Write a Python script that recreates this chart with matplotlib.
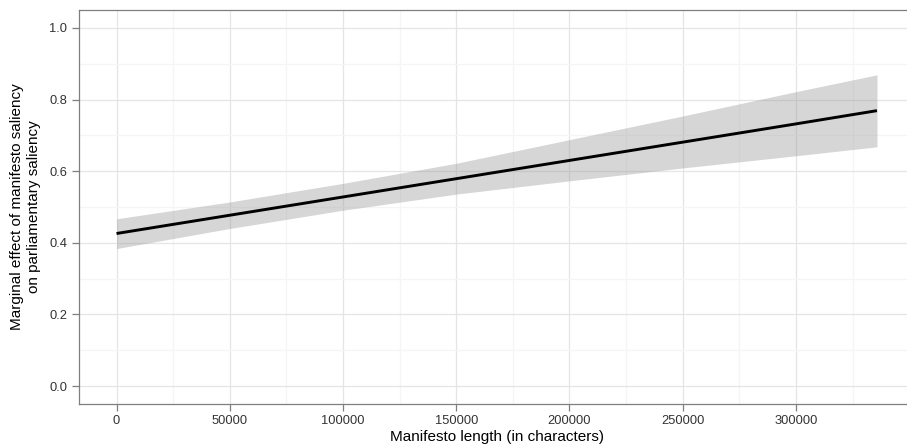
import matplotlib
matplotlib.use("Agg")
import matplotlib.pyplot as plt
from matplotlib.ticker import FixedLocator

# Data
length_chars = [0, 50000, 100000, 150000, 200000, 250000, 300000, 335800]
effect = [0.426, 0.477, 0.528, 0.579, 0.630, 0.681, 0.732, 0.769]
lower = [0.384, 0.440, 0.491, 0.536, 0.573, 0.609, 0.643, 0.668]
upper = [0.467, 0.514, 0.566, 0.622, 0.688, 0.754, 0.822, 0.869]

x_ticks = [0, 50000, 100000, 150000, 200000, 250000, 300000]
y_ticks = [0.0, 0.2, 0.4, 0.6, 0.8, 1.0]

plt.rcParams['font.family'] = ['Liberation Sans', 'DejaVu Sans']

W, H = 907, 445
fig = plt.figure(figsize=(W / 100, H / 100), dpi=100)
left, right, bottom, top = 78.5, 915.0, 404.0, 10.0
ax = fig.add_axes([left / W, (H - bottom) / H, (right - left) / W, (bottom - top) / H])

ax.fill_between(length_chars, lower, upper, color='#999999', alpha=0.4, linewidth=0, zorder=2)
ax.plot(length_chars, effect, color='black', lw=2.1, zorder=3, solid_capstyle='butt')

xr = length_chars[-1] - length_chars[0]
ax.set_xlim(length_chars[0] - 0.05 * xr, length_chars[-1] + 0.05 * xr)
ax.set_ylim(-0.05, 1.05)

ax.xaxis.set_major_locator(FixedLocator(x_ticks))
ax.xaxis.set_minor_locator(FixedLocator([t + 25000 for t in x_ticks]))
ax.yaxis.set_major_locator(FixedLocator(y_ticks))
ax.yaxis.set_minor_locator(FixedLocator([t + 0.1 for t in y_ticks[:-1]]))
ax.set_xticklabels([str(t) for t in x_ticks])
ax.set_yticklabels([f"{t:.1f}" for t in y_ticks])

ax.grid(which='major', color='#E5E5E5', lw=0.9, zorder=0)
ax.grid(which='minor', color='#F5F5F5', lw=0.9, zorder=0)
ax.set_axisbelow(True)

for s in ax.spines.values():
    s.set_color('#7F7F7F')
    s.set_linewidth(0.9)
ax.spines['right'].set_visible(False)

ax.tick_params(which='major', length=5, width=0.9, color='#7F7F7F',
               labelsize=9.3, labelcolor='#333333', pad=3)
ax.tick_params(which='minor', length=0)

ax.set_xlabel('Manifesto length (in characters)', fontsize=11, color='black', labelpad=2)
ax.set_ylabel('Marginal effect of manifesto saliency\non parliamentary saliency',
              fontsize=11, color='black', labelpad=6, linespacing=1.3)

fig.savefig('out.png', dpi=100)
